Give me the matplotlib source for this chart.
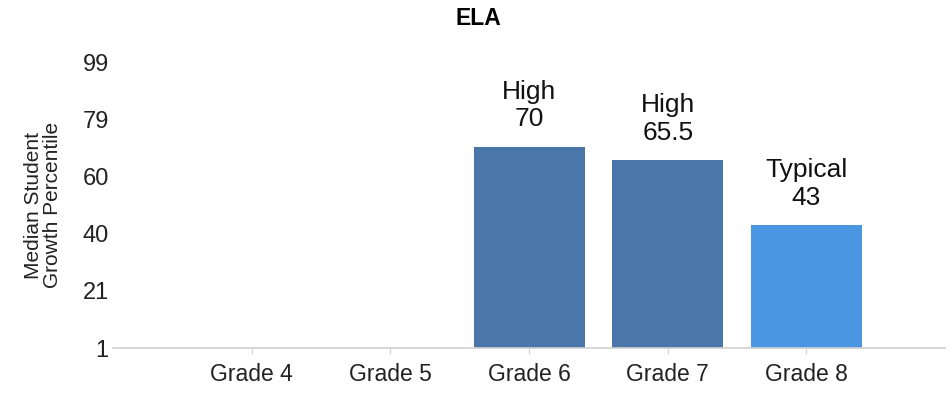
import numpy as np
from matplotlib import pyplot as plt

plt.rcParams['font.family'] = ['Liberation Sans', 'DejaVu Sans']

# ---------------- data ----------------
grades = ["Grade 4", "Grade 5", "Grade 6", "Grade 7", "Grade 8"]
sgp = [np.nan, np.nan, 70, 65.5, 43]
growth = ["", "", "High", "High", "Typical"]
bar_colors = ["#4a76a9", "#4a76a9", "#4a76a9", "#4a76a9", "#4a96e2"]
y_ticks = [1, 21, 40, 60, 79, 99]

# ---------------- plot ----------------
fig = plt.figure(figsize=(9.51, 3.93), dpi=100)
ax = fig.add_axes([0.1188, 0.1145, 0.875, 0.7275])

x = np.arange(len(grades))
heights = [0 if np.isnan(v) else v - 1 for v in sgp]
bars = ax.bar(x, heights, bottom=1, width=0.8, color=bar_colors)

# growth label + value above each bar
for xi, v, g in zip(x, sgp, growth):
    if np.isnan(v):
        continue
    label = "%s\n%s" % (g, ("%g" % v))
    ax.annotate(label, xy=(xi, v), xytext=(0, 11), textcoords="offset points",
                ha="center", va="bottom", fontsize=19, linespacing=1.2,
                color="#111111")

ax.set_xlim(-1, 5)
ax.set_ylim(1, 99)
ax.set_xticks(x)
ax.set_xticklabels(grades, fontsize=16.5, color="#222222")
ax.set_yticks(np.linspace(1, 99, 6))
ax.set_yticklabels([str(t) for t in y_ticks], fontsize=17, color="#222222")

for side in ["top", "right", "left"]:
    ax.spines[side].set_visible(False)
ax.spines["bottom"].set_color("#d0d0d0")
ax.spines["bottom"].set_linewidth(1.2)
ax.tick_params(axis="y", length=0, pad=3)
ax.tick_params(axis="x", length=4, color="#d0d0d0", pad=7)

ax.set_ylabel("Median Student\nGrowth Percentile", fontsize=15,
              color="#222222", linespacing=1.0, labelpad=15)
fig.text(0.503, 0.952, "ELA", ha="center", va="center", fontsize=16.5,
         fontweight="bold")

fig.savefig("out.png", dpi=100)
